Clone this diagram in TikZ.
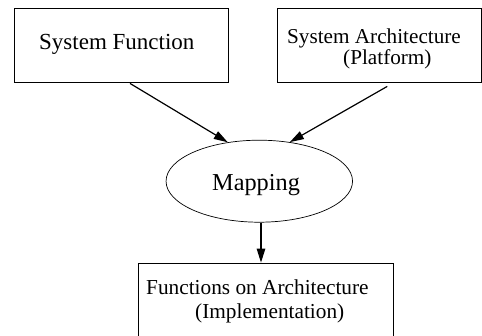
\documentclass[tikz,border=0pt]{standalone}
\usepackage{fontspec}
\setmainfont{Liberation Serif}
\usetikzlibrary{arrows.meta,shapes.geometric,calc}
\tikzset{
  box/.style={draw, line width=0.8pt, rectangle, inner sep=0pt},
  lbl/.style={font=\fontsize{21.2}{25}\selectfont, inner sep=0pt, anchor=base west},
  arr/.style={line width=1.2pt, -{Triangle[length=14pt,width=8.5pt]}},
}
\begin{document}
\begin{tikzpicture}[x=1pt,y=-1pt]
\useasboundingbox (0,0) rectangle (482,335);
\clip (0,0) rectangle (482,335);
% boxes
\node[box, minimum width=214pt, minimum height=74pt] (sf) at (121,45) {};
\node[box, minimum width=204.5pt, minimum height=74pt] (sa) at (379.25,45) {};
\node[box, minimum width=255pt, minimum height=90pt] (fa) at (265.5,308) {};
\node[draw, ellipse, line width=0.7pt, minimum width=186.5pt, minimum height=82pt, inner sep=0pt] (map) at (259.3,181.2) {};
% texts
\node[lbl, font=\fontsize{23}{27}\selectfont] (sft) at (39,49) {System Function};
\node[lbl] (sat1) at (287,43) {System Architecture};
\node[lbl] (sat2) at (343,64) {(Platform)};
\node[lbl, font=\fontsize{24.3}{28}\selectfont] (mapt) at (212,190) {Mapping};
\node[lbl, font=\fontsize{21.3}{25}\selectfont] (fat1) at (146,294) {Functions on Architecture};
\node[lbl, font=\fontsize{21.3}{25}\selectfont] (fat2) at (195,318) {(Implementation)};
% connectors
\draw[arr] ([xshift=9pt,yshift=-1pt]sf.south) -- (map.129);
\draw[arr] ([xshift=8pt,yshift=-4pt]sa.south) -- (map.52);
\draw[arr] ([xshift=1.7pt]map.south) -- ([xshift=1.7pt]map.south |- fa.north);
\end{tikzpicture}
\end{document}
